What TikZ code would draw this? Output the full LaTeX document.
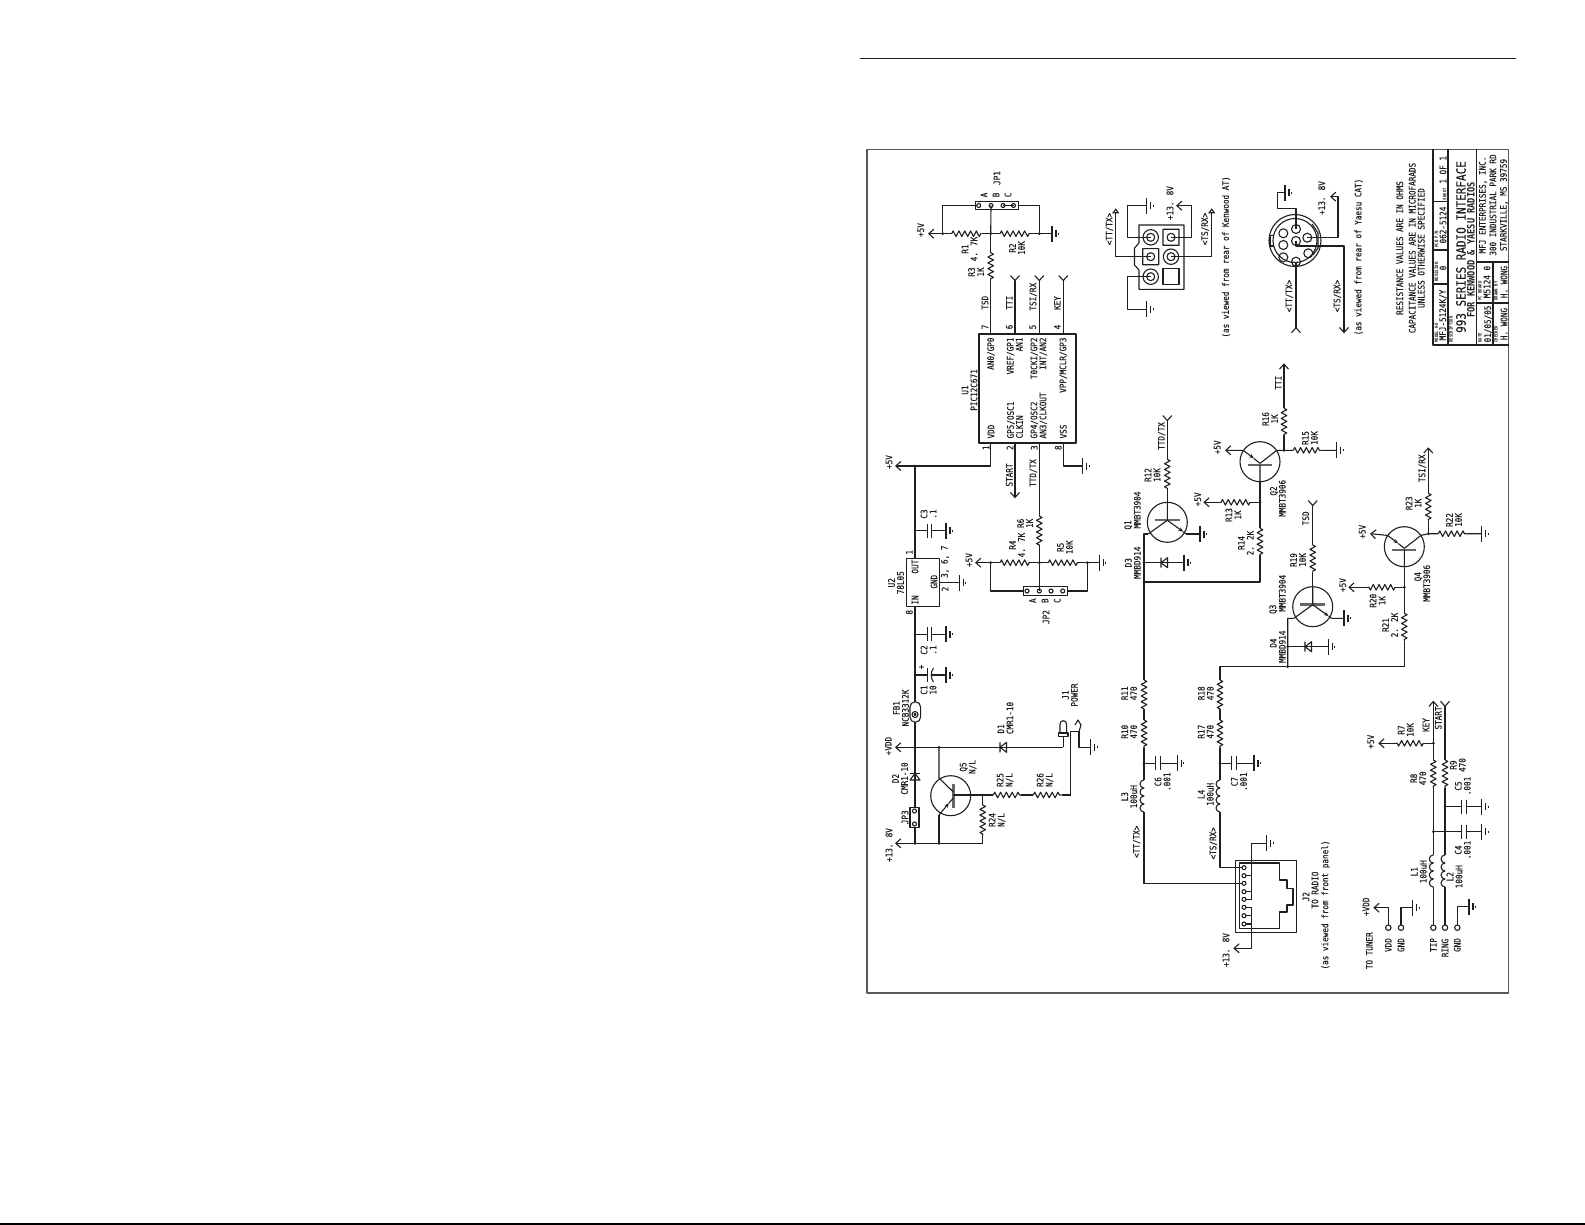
\documentclass[tikz,border=0pt]{standalone}
\usepackage{fontspec}
\usetikzlibrary{arrows.meta,decorations.pathmorphing}
\newfontfamily\cadfont[FakeStretch=0.85,FakeBold=0.25]{DejaVu Sans Mono}
\newfontfamily\cadbold[FakeStretch=0.85]{DejaVu Sans Mono Bold}

\newcommand{\resis}[3]{\coordinate (#1a) at #2; \coordinate (#1b) at #3; \draw[zig] (#1a) -- (#1b);}

\tikzset{
    zig/.style={decorate, decoration={zigzag, segment length=5.8pt, amplitude=2.8pt}},
    lbl/.style={rotate=90, inner sep=0pt, align=center, font=\cadfont\fontsize{9}{9}\selectfont},
    lblL/.style={lbl, align=left},
    capt/.style={rotate=90, inner sep=0pt, font=\cadbold\fontsize{4.6}{5}\selectfont},
    rail/.style={-{Straight Barb[length=5pt,width=9pt]}},
    fork/.style={-{Straight Barb[reversed,length=5pt,width=9pt]}},
    tri/.style={-{Triangle[open,length=5pt,width=7pt]}},
    gnd/.pic={
        \coordinate (-p) at (0,0);
        \draw (0,-8) -- (0,8) (4,-3.5) -- (4,3.5) (6.5,-1) -- (6.5,1);
    },
    capc/.pic={
        \coordinate (-a) at (0,0);
        \coordinate (-b) at (4.4,0);
        \draw (0,-7) -- (0,7) (4.4,-7) -- (4.4,7);
    },
    dioh/.pic={
        \draw (0,-5) -- (0,5) (0,0) -- (6.5,-5) -- (6.5,5) -- cycle;
    },
    qnpn/.pic={
        \coordinate (-b) at (0,-20);
        \coordinate (-c) at (-19,11.7);
        \coordinate (-e) at (19,11.7);
        \draw (0,0) circle (20);
        \draw[line width=2.4pt, black!60] (-12.5,-2.3) -- (12.5,-2.3);
        \draw (0,-20) -- (0,-2.3) (0,-2) -- (-19,11.7);
        \draw[-{Stealth[length=5pt]}] (0,-2) -- (16,9.5);
        \draw (16,9.5) -- (19,11.7);
    },
    qpnp/.pic={
        \coordinate (-b) at (0,20);
        \coordinate (-c) at (16.7,-11.3);
        \coordinate (-e) at (-16.7,-11.3);
        \draw (0,0) circle (20);
        \draw[line width=2.4pt, black!60] (-12,3.3) -- (12,3.3);
        \draw (0,20) -- (0,3.3) (0,1.7) -- (16.7,-11.3);
        \draw[-{Stealth[length=5pt]}] (-16.7,-11.3) -- (-6,-3.2);
        \draw (-6,-3.2) -- (0,1.7);
    },
    coilv/.pic={
        \draw (0,0) arc (-90:-270:4) arc (-90:-270:4) arc (-90:-270:4) arc (-90:-270:4);
    },
    kdbl/.pic={\draw (0,0) circle (7.7) (0,0) circle (4);},
    ksqr/.pic={\draw (-8,-8) rectangle (8,8) (0,0) circle (4);},
}

\begin{document}
\begin{tikzpicture}[x=1pt, y=-1pt, line width=1.1pt, line join=round, color=black!88]
    \useasboundingbox[fill=white] (0,0) rectangle (1585,1225);

    % page rules and sheet frame
    \draw (860,58.6) -- (1515.6,58.6);
    \draw[line width=2pt, black] (0,1224) -- (1585,1224);
    \draw[line width=1.4pt, black!65] (867,149.5) rectangle (1508.6,993);

    % U1
    \node[draw, minimum width=97pt, minimum height=109pt, inner sep=0pt] (u1) at (1027.5,388.5) {};
    \coordinate (p7) at (990.7,334);
    \coordinate (p6) at (1015,334);
    \coordinate (p5) at (1039.3,334);
    \coordinate (p4) at (1063.3,334);
    \coordinate (p1) at (990.7,443);
    \coordinate (p2) at (1015,443);
    \coordinate (p3) at (1039.3,443);
    \coordinate (p8) at (1063.3,443);
    \draw[fork] (p6) -- (1015,275);
    \draw[fork] (p5) -- (1039.3,275);
    \draw[fork] (p4) -- (1063.3,275);
    \coordinate (startend) at (1015,498.3);
    \draw[rail] (p2) -- (startend);
    \pic (g8) at (1082.7,466) {gnd};
    \draw (p8) |- (g8-p);
    \node[lbl] (u1t) at (969.5,390) {U1\\PIC12C671};
    \node[lbl, anchor=east] (u1a) at (991,337) {AN0/GP0};
    \node[lbl, anchor=east, align=right] (u1b) at (1014.7,337) {VREF/GP1\\AN1};
    \node[lbl, anchor=east, align=right] (u1c) at (1038.8,337) {T0CKI/GP2\\INT/AN2};
    \node[lbl, anchor=east] (u1d) at (1063.3,337) {VPP/MCLR/GP3};
    \node[lbl, anchor=west] (u1e) at (991,439) {VDD};
    \node[lblL, anchor=west] (u1f) at (1015,439) {GP5/OSC1\\CLKIN};
    \node[lblL, anchor=west] (u1g) at (1038.8,439) {GP4/OSC2\\AN3/CLKOUT};
    \node[lbl, anchor=west] (u1h) at (1063.3,439) {VSS};
    \node[lbl] (n7) at (985,327) {7};
    \node[lbl] (n6) at (1009.3,327) {6};
    \node[lbl] (n5) at (1032.7,327) {5};
    \node[lbl] (n4) at (1057.3,327) {4};
    \node[lbl] (n1) at (986,447.7) {1};
    \node[lbl] (n2) at (1010,447.7) {2};
    \node[lbl] (n3) at (1034.3,447.7) {3};
    \node[lbl] (n8) at (1058.3,447.7) {8};
    \node[lbl] (tsdu) at (985,302.7) {TSD};
    \node[lbl] (ttiu) at (1009.3,302.7) {TTI};
    \node[lbl] (tsiu) at (1033.3,296.7) {TSI/RX};
    \node[lbl] (keyu) at (1057.3,303) {KEY};
    \node[lbl] (startu) at (1009.3,475) {START};
    \node[lbl] (ttdu) at (1033.3,473) {TTD/TX};

    % JP1, R1 to R3
    \node[draw, minimum width=43.7pt, minimum height=7.6pt, inner sep=0pt] (jp1) at (997,205.5) {};
    \foreach \x in {978.7,991,1003,1013.5} \draw (\x,205.5) circle (2);
    \draw (1003,205.5) -- (1013.5,205.5);
    \resis{r1}{(951.7,233.7)}{(981.7,233.7)}
    \resis{r2}{(1000,233.7)}{(1030,233.7)}
    \resis{r3}{(990.7,252.7)}{(990.7,279)}
    \coordinate (j1a) at (942.7,233.7);
    \coordinate (j1b) at (990.7,233.7);
    \coordinate (j1c) at (1039.3,233.7);
    \pic (g1) at (1052,233.7) {gnd};
    \draw[rail] (j1a) -- (928,233.7);
    \draw (j1a) -- (r1a) (r1b) -- (j1b) -- (r2a) (r2b) -- (j1c) -- (g1-p);
    \draw (j1b) -- (r3a) (r3b) -- (p7);
    \draw (j1b) -- (991,205.5);
    \draw (j1a) |- (jp1.west);
    \draw (j1c) |- (jp1.east);
    \foreach \j in {j1a,j1b,j1c} \fill (\j) circle (1.5);
    \node[lbl] (jp1t) at (997,178) {JP1};
    \node[lbl] (jp1a) at (984,195) {A};
    \node[lbl] (jp1b) at (996,195) {B};
    \node[lbl] (jp1c) at (1008,195) {C};
    \node[lbl] (v5a) at (920.7,230) {+5V};
    \node[lbl] (r1t) at (969.5,249) {R1\\4. 7K};
    \node[lbl] (r2t) at (1017,248) {R2\\10K};
    \node[lbl] (r3t) at (976,272) {R3\\1K};

    % +5V rail, U2, C1 to C3
    \node[draw, minimum width=33.3pt, minimum height=48.4pt, inner sep=0pt] (u2) at (922.7,582.5) {};
    \coordinate (j2a) at (915,466);
    \coordinate (j2b) at (915,530.7);
    \coordinate (j2c) at (915,634.3);
    \coordinate (j2d) at (915,675);
    \coordinate (j2e) at (915,747.3);
    \coordinate (j2f) at (915,843.3);
    \draw[rail] (p1) |- (895,466);
    \draw (j2a) -- (915,558.3);
    \draw (915,606.7) -- (j2f);
    \pic (c3) at (927.3,530.7) {capc};
    \pic (c2) at (927.3,634.3) {capc};
    \pic (g3) at (946,530.7) {gnd};
    \pic (g4) at (946,634.3) {gnd};
    \pic (g5) at (946,675) {gnd};
    \pic (g6) at (959.3,582.7) {gnd};
    \draw (j2b) -- (c3-a) (c3-b) -- (g3-p);
    \draw (j2c) -- (c2-a) (c2-b) -- (g4-p);
    \coordinate (c1a) at (927.3,675);
    \draw (j2d) -- (c1a);
    \draw (927.3,668) -- (927.3,682);
    \draw (933.5,668) .. controls (930.5,672) and (930.5,678) .. (933.5,682);
    \draw (931.5,675) -- (g5-p);
    \draw (939.3,582.7) -- (g6-p);
    \foreach \j in {j2a,j2b,j2c,j2d,j2e,j2f} \fill (\j) circle (1.5);
    \node[lbl] (c3t) at (928.5,514) {C3\\.1};
    \node[lbl] (c2t) at (928.5,650) {C2\\.1};
    \node[lbl] (c1t) at (928.5,690) {C1\\10};
    \node[lbl] (plus1) at (921.7,667) {+};
    \node[lbl] (u2t) at (896,582.7) {U2\\78L05};
    \node[lbl] (u2a) at (915,566.7) {OUT};
    \node[lbl] (u2b) at (915,600) {IN};
    \node[lbl] (u2c) at (934,581.7) {GND};
    \node[lbl] (u2p1) at (909.3,552.3) {1};
    \node[lbl] (u2p8) at (909.3,612.3) {8};
    \node[lbl] (u2p2) at (945,589) {2};
    \node[lbl] (u2p3) at (945,561.7) {3, 6, 7};
    \node[lbl] (v5b) at (889,462) {+5V};

    % FB1, D1, D2, JP3, J1
    \draw[fill=white] (910,707) arc (180:360:5.3) -- (920.6,717) arc (0:180:5.3) -- cycle;
    \draw (915,714.5) circle (3) (915,714.5) circle (1);
    \node[lbl] (fb1t) at (901,708) {FB1\\NCB3312K};
    \pic (d1) at (1000,747.3) {dioh};
    \draw[rail] (1063.3,747.3) -- (895,747.3);
    \draw (910,773.5) -- (920,773.5);
    \draw (915,773.5) -- (910,780) -- (920,780) -- cycle;
    \node[lbl] (d1t) at (1005.5,718) {\makebox[31pt][l]{D1}\\CMR1-10};
    \node[lbl] (d2t) at (900,778.5) {D2\\CMR1-10};
    \node[draw, fill=white, minimum width=9pt, minimum height=20pt, inner sep=0pt] (jp3) at (914.5,817.3) {};
    \foreach \y in {811,824} \draw (914.5,\y) circle (2);
    \node[lbl] (jp3t) at (905,817.3) {JP3};
    \draw[rail] (982.7,843.3) -- (895,843.3);
    \node[lbl] (v138a) at (889,845) {+13. 8V};
    \node[lbl] (vdda) at (888.3,746) {+VDD};
    \draw (1060,733) -- (1060,724) arc (180:360:3.3) -- (1066.6,733);
    \draw (1058.5,733) rectangle (1068,736.7);
    \draw (1063.3,736.7) -- (1063.3,747.3);
    \coordinate (jk) at (1070.7,731.7);
    \coordinate (jl) at (1079,731.7);
    \pic (g7) at (1090.7,747.3) {gnd};
    \draw (1070.7,795) -- (jk) -- (jl) |- (g7-p);
    \draw (jl) -- (1081,725) -- (1078,720) -- (1075,725);
    \node[lbl] (j1t) at (1070,695) {J1\\POWER};

    % Q5, R24 to R26
    \coordinate (j5a) at (939,747.3);
    \coordinate (j5b) at (939,843.3);
    \coordinate (j5c) at (982.7,795);
    \draw (950.7,795.7) circle (20);
    \draw[line width=2.4pt, black!60] (953.3,783.5) -- (953.3,807.5);
    \draw (j5a) -- (939,778) -- (953.3,792);
    \draw (953.3,795) -- (j5c);
    \draw[-{Stealth[length=5pt]}] (939,815) -- (949,803);
    \draw (949,803) -- (953.3,798);
    \draw (939,815) -- (j5b);
    \resis{r25}{(993.3,795)}{(1021,795)}
    \resis{r26}{(1033.3,795)}{(1061.7,795)}
    \resis{r24}{(982.7,805)}{(982.7,835)}
    \draw (j5c) -- (r25a) (r25b) -- (r26a) (r26b) -- (1070.7,795);
    \draw (j5c) -- (r24a) (r24b) -- (982.7,843.3);
    \foreach \j in {j5a,j5b,j5c} \fill (\j) circle (1.5);
    \node[lbl] (q5t) at (968,767) {Q5\\N/L};
    \node[lbl] (r25t) at (1005,780) {R25\\N/L};
    \node[lbl] (r26t) at (1045,780) {R26\\N/L};
    \node[lbl] (r24t) at (997,820) {R24\\N/L};

    % JP2, R4 to R6
    \node[draw, minimum width=44pt, minimum height=8.3pt, inner sep=0pt] (jp2) at (1045.3,591) {};
    \foreach \x in {1027,1039.3,1051,1062.7} \draw (\x,591) circle (2);
    \resis{r6}{(1039.3,516)}{(1039.3,546)}
    \resis{r4}{(1000,562.7)}{(1030,562.7)}
    \resis{r5}{(1048.3,562.7)}{(1078.3,562.7)}
    \coordinate (j6a) at (990.7,562.7);
    \coordinate (j6b) at (1039.3,562.7);
    \coordinate (j6c) at (1087.3,562.7);
    \pic (g9) at (1099.3,562.7) {gnd};
    \draw (p3) -- (r6a) (r6b) -- (j6b) -- (1039.3,591);
    \draw[rail] (r4a) -- (975,562.7);
    \draw (r4b) -- (j6b) -- (r5a) (r5b) -- (j6c) -- (g9-p);
    \draw (j6a) |- (jp2.west);
    \draw (j6c) |- (jp2.east);
    \foreach \j in {j6a,j6b,j6c} \fill (\j) circle (1.5);
    \node[lbl] (jp2t) at (1046,617) {JP2};
    \node[lbl] (jp2a) at (1032.7,600.7) {A};
    \node[lbl] (jp2b) at (1045,600.7) {B};
    \node[lbl] (jp2c) at (1057.3,600.7) {C};
    \node[lbl] (v5c) at (969,560) {+5V};
    \node[lbl] (r4t) at (1017,545) {R4\\4. 7K};
    \node[lbl] (r5t) at (1065,547.3) {R5\\10K};
    \node[lbl] (r6t) at (1025,523.3) {R6\\1K};

    % Kenwood connector
    \draw (1139,225) -- (1184,225) -- (1184,289.3) -- (1139,289.3) -- (1139,270) -- (1134.5,265) -- (1134.5,248) -- (1139,243) -- cycle;
    \pic (k1) at (1150.7,237.3) {kdbl};
    \pic (k2) at (1171,237.3) {ksqr};
    \pic (k3) at (1150.7,256.7) {ksqr};
    \pic (k4) at (1171,256.7) {kdbl};
    \pic (k5) at (1150.7,276.7) {kdbl};
    \draw (1163,268.7) rectangle (1179,284.7);
    \pic (g10) at (1146.7,205.7) {gnd};
    \pic (g11) at (1146.7,309.3) {gnd};
    \coordinate (k1c) at (1150.7,237.3);
    \coordinate (k2c) at (1171,237.3);
    \coordinate (k3c) at (1150.7,256.7);
    \coordinate (k4c) at (1171,256.7);
    \coordinate (k5c) at (1150.7,276.7);
    \draw (k1c) -- (1127.3,237.3) |- (g10-p);
    \draw (k5c) -- (1127.3,276.7) |- (g11-p);
    \draw[rail] (k2c) -- (1191.7,237.3) |- (1176,205.7);
    \draw[tri] (k3c) -- (1115.7,256.7) -- (1115.7,208.3);
    \draw[tri] (k4c) -- (1211.7,256.7) -- (1211.7,208.3);
    \node[lbl] (v138b) at (1170,203) {+13. 8V};
    \node[lbl] (ttk) at (1109.5,229) {<TT/TX>};
    \node[lbl] (tsk) at (1205,229) {<TS/RX>};
    \node[lbl] (kwnote) at (1226,257) {(as viewed from rear of Kenwood AT)};

    % Yaesu connector
    \draw (1295,240.5) circle (26) (1295,240.5) circle (22);
    \foreach \x/\y in {1296/229,1283.3/233.3,1307.3/237.7,1296/241,1283.3/245,1308.3/253.3,1283.3/257.3,1296/261.7}
        \draw (\x,\y) circle (4.5);
    \draw (1274,235.5) -- (1270,235.5) -- (1270,246) -- (1274,246);
    \draw (1312,224) -- (1318,233) -- (1318,248) -- (1313,255);
    \coordinate (y1) at (1296,229);
    \coordinate (y2) at (1307.3,237.7);
    \coordinate (y3) at (1296,241);
    \coordinate (y4) at (1296,261.7);
    \pic (g12) at (1285,192.7) {gnd};
    \draw (y1) -- (1296,208.3) -- (1277.3,208.3) |- (g12-p);
    \draw[rail] (y2) -- (1338,237.7) |- (1330,196.7);
    \draw[rail] (y3) -- (1296,246) -- (1344,246) -- (1344,333.3);
    \draw[fork] (y4) -- (1296,333.3);
    \node[lbl] (v138c) at (1321.7,198) {+13. 8V};
    \node[lbl] (tty) at (1289.3,296) {<TT/TX>};
    \node[lbl] (tsy) at (1337.3,296) {<TS/RX>};
    \node[lbl] (ysnote) at (1358.5,257) {(as viewed from rear of Yaesu CAT)};

    % notes
    \node[lbl] (note) at (1410.5,248) {RESISTANCE VALUES ARE IN OHMS\\[3.5pt]CAPACITANCE VALUES ARE IN MICROFARADS\\UNLESS OTHERWISE SPECIFIED};

    % title block
    \draw (1433,149.5) -- (1433,345) -- (1508.6,345);
    \draw (1448,149.5) -- (1448,345) (1476.3,149.5) -- (1476.3,345);
    \draw (1433,201.7) -- (1448,201.7) (1433,250) -- (1448,250) (1433,284) -- (1448,284);
    \draw (1476.3,262) -- (1508.6,262) (1476.3,303) -- (1508.6,303) (1493,262) -- (1493,345);
    \node[capt, anchor=west] (tb1) at (1436.5,343) {MODEL NO};
    \node[lbl] (tb2) at (1443,315) {MFJ-5124K/Y};
    \node[capt, anchor=west] (tb3) at (1436.5,282) {REVISION};
    \node[lbl] (tb4) at (1443,268) {0};
    \node[capt, anchor=west] (tb5) at (1436.5,248) {PCB P/N};
    \node[lbl] (tb6) at (1443,225) {062-5124};
    \node[lbl] (tb7) at (1443,178) {{\cadbold\fontsize{4.6}{5}\selectfont SHEET} 1 OF 1};
    \node[capt, anchor=west] (tb8) at (1451,343) {DESCRIPTION};
    \node[lbl, font=\cadfont\fontsize{12.9}{13}\selectfont] (tb9) at (1461,247) {993 SERIES RADIO INTERFACE};
    \node[lbl, font=\cadbold\fontsize{10.2}{11}\selectfont] (tb10) at (1471,250) {FOR KENWOOD \& YAESU RADIOS};
    \node[capt, anchor=west] (tb11) at (1480,343) {DATE};
    \node[lbl] (tb12) at (1488,324) {01/05/05};
    \node[capt, anchor=west] (tb13) at (1496,343) {CHECKED};
    \node[lbl] (tb14) at (1504,324) {H. WONG};
    \node[capt, anchor=west] (tb15) at (1480,301) {PC BOARD};
    \node[lbl] (tb16) at (1488,282) {M5124\_0};
    \node[capt, anchor=west] (tb17) at (1496,301) {DRAWN BY};
    \node[lbl] (tb18) at (1504,282) {H. WONG};
    \node[lbl] (tb19) at (1493.5,205) {MFJ ENTERPRISES, INC.\\[1.5pt]300 INDUSTRIAL PARK RD\\[1.5pt]STARKVILLE, MS 39759};

    % Q1, D3, Q2 stage
    \pic (q1) at (1167.3,522.3) {qnpn};
    \pic (q2) at (1260,461.7) {qpnp};
    \pic (d3) at (1161,562.7) {dioh};
    \resis{r12}{(1167.3,459.3)}{(1167.3,488.3)}
    \resis{r16}{(1284,408.3)}{(1284,435)}
    \resis{r15}{(1293.3,450.3)}{(1321.7,450.3)}
    \resis{r13}{(1250,502.3)}{(1221,502.3)}
    \resis{r14}{(1260,528.3)}{(1260,555)}
    \coordinate (j7a) at (1144,534);
    \coordinate (j7b) at (1144,562.7);
    \coordinate (j7c) at (1144,582);
    \coordinate (j7d) at (1260,502.3);
    \coordinate (j7e) at (1284,450.3);
    \pic (g13) at (1200,534) {gnd};
    \pic (g14) at (1184,562.7) {gnd};
    \pic (g15) at (1336.7,450.3) {gnd};
    \draw[fork] (r12a) -- (1167.3,415);
    \draw (r12b) -- (q1-b);
    \draw (q1-e) -- (g13-p);
    \draw (q1-c) -- (j7a) -- (1144,680);
    \draw (j7b) -- (g14-p);
    \draw (j7c) -| (r14b);
    \draw (r14a) -- (j7d) -- (q2-b);
    \draw (j7d) -- (r13a);
    \draw[rail] (r13b) -- (1203.3,502.3);
    \draw[rail] (q2-e) -- (1225,450.3);
    \draw (q2-c) -- (j7e) -- (r15a) (r15b) -- (g15-p);
    \draw (j7e) -- (r16b);
    \draw[rail] (r16a) -- (1284,363.3);
    \foreach \j in {j7b,j7c,j7d,j7e} \fill (\j) circle (1.5);
    \node[lbl] (ttdq) at (1161.7,436) {TTD/TX};
    \node[lbl] (r12t) at (1152.5,475) {R12\\10K};
    \node[lbl] (q1t) at (1128.3,525) {Q1};
    \node[lbl] (q1m) at (1137.3,510) {MMBT3904};
    \node[lbl] (d3t) at (1128.3,562.7) {D3};
    \node[lbl] (d3m) at (1137.3,562.7) {MMBD914};
    \node[lbl] (v5d) at (1197.7,499.3) {+5V};
    \node[lbl] (r13t) at (1233.3,515) {R13\\1K};
    \node[lbl] (r14t) at (1245.8,543) {R14\\2. 2K};
    \node[lbl] (q2t) at (1274,491) {Q2};
    \node[lbl] (q2m) at (1282.3,498.3) {MMBT3906};
    \node[lbl] (v5e) at (1217.3,447.3) {+5V};
    \node[lbl] (ttiq) at (1278.3,382.7) {TTI};
    \node[lbl] (r16t) at (1270,419) {R16\\1K};
    \node[lbl] (r15t) at (1310,438) {R15\\10K};

    % Q3, D4, Q4 stage
    \pic (q3) at (1312.7,606.7) {qnpn};
    \pic (q4) at (1404.3,546.7) {qpnp};
    \pic (d4) at (1305,646.7) {dioh};
    \resis{r19}{(1312.7,545)}{(1312.7,571.7)}
    \resis{r23}{(1428.3,493.3)}{(1428.3,520)}
    \resis{r22}{(1438.3,533.7)}{(1466.7,533.7)}
    \resis{r20}{(1395,587.3)}{(1366.7,587.3)}
    \resis{r21}{(1404.3,613.3)}{(1404.3,641.7)}
    \coordinate (j8a) at (1287.7,618.3);
    \coordinate (j8b) at (1287.7,646.7);
    \coordinate (j8c) at (1287.7,666.7);
    \coordinate (j8d) at (1404.3,587.3);
    \coordinate (j8e) at (1428.3,533.7);
    \pic (g16) at (1344,618.3) {gnd};
    \pic (g17) at (1328.3,646.7) {gnd};
    \pic (g18) at (1481.7,533.7) {gnd};
    \draw[fork] (r19a) -- (1312.7,500);
    \draw (r19b) -- (q3-b);
    \draw (q3-e) -- (g16-p);
    \draw (q3-c) -- (j8a) -- (j8c);
    \draw (j8b) -- (g17-p);
    \draw (1220,680) |- (j8c) -| (r21b);
    \draw (r21a) -- (j8d) -- (q4-b);
    \draw (j8d) -- (r20a);
    \draw[rail] (r20b) -- (1348.3,587.3);
    \draw[rail] (q4-e) -- (1370,533.7);
    \draw (q4-c) -- (j8e) -- (r22a) (r22b) -- (g18-p);
    \draw (j8e) -- (r23b);
    \draw[rail] (r23a) -- (1428.3,447.3);
    \foreach \j in {j8b,j8c,j8d,j8e} \fill (\j) circle (1.5);
    \node[lbl] (tsdq) at (1305.7,518.3) {TSD};
    \node[lbl] (r19t) at (1298,560) {R19\\10K};
    \node[lbl] (q3t) at (1273.3,609.3) {Q3};
    \node[lbl] (q3m) at (1282.3,593.3) {MMBT3904};
    \node[lbl] (d4t) at (1273.3,643) {D4};
    \node[lbl] (d4m) at (1282.3,646.7) {MMBD914};
    \node[lbl] (v5f) at (1342.7,585) {+5V};
    \node[lbl] (r20t) at (1377.5,600.7) {R20\\1K};
    \node[lbl] (r21t) at (1390,625) {R21\\2. 2K};
    \node[lbl] (q4t) at (1418.3,576.7) {Q4};
    \node[lbl] (q4m) at (1426.7,583.3) {MMBT3906};
    \node[lbl] (v5g) at (1362.3,531.7) {+5V};
    \node[lbl] (tsiq) at (1422.3,468.3) {TSI/RX};
    \node[lbl] (r23t) at (1413.5,503.3) {R23\\1K};
    \node[lbl] (r22t) at (1454,520) {R22\\10K};

    % filters to J2
    \resis{r11}{(1144,680)}{(1144,709)}
    \resis{r10}{(1144,720)}{(1144,748.3)}
    \resis{r18}{(1220,680)}{(1220,709)}
    \resis{r17}{(1220,720)}{(1220,748.3)}
    \pic (l3) at (1144,780) {coilv};
    \pic (l4) at (1220,780) {coilv};
    \pic (c6) at (1155.7,763.3) {capc};
    \pic (c7) at (1231.7,763.3) {capc};
    \pic (g19) at (1177.3,763.3) {gnd};
    \pic (g20) at (1254,763.3) {gnd};
    \coordinate (j9a) at (1144,763.3);
    \coordinate (j9b) at (1220,763.3);
    \coordinate (pin1) at (1244,867.7);
    \coordinate (pin3) at (1244,883.3);
    \draw (r11b) -- (r10a) (r10b) -- (j9a) -- (1144,780);
    \draw (r18b) -- (r17a) (r17b) -- (j9b) -- (1220,780);
    \draw (j9a) -- (c6-a) (c6-b) -- (g19-p);
    \draw (j9b) -- (c7-a) (c7-b) -- (g20-p);
    \draw (1144,812) |- (pin3);
    \draw (1220,812) |- (pin1);
    \foreach \j in {j9a,j9b} \fill (\j) circle (1.5);
    \node[lbl] (r11t) at (1129.2,693.3) {R11\\470};
    \node[lbl] (r10t) at (1129.2,731.7) {R10\\470};
    \node[lbl] (r18t) at (1205.8,693.3) {R18\\470};
    \node[lbl] (r17t) at (1205.8,731.7) {R17\\470};
    \node[lbl] (l3t) at (1129.2,796.7) {L3\\100uH};
    \node[lbl] (l4t) at (1205.8,794.3) {L4\\100uH};
    \node[lbl] (c6t) at (1162.5,781.7) {C6\\.001};
    \node[lbl] (c7t) at (1239,781.7) {C7\\.001};
    \node[lbl] (ttj) at (1136.7,841.7) {<TT/TX>};
    \node[lbl] (tsj) at (1213.3,843.3) {<TS/RX>};

    % J2
    \node[draw, minimum width=60.3pt, minimum height=72.3pt, inner sep=0pt] (j2) at (1265.9,896.2) {};
    \draw (1239.5,863) -- (1279.5,863) -- (1279.5,880) -- (1287,880) -- (1287,888.5) -- (1293,888.5) -- (1293,905) -- (1287,905) -- (1287,912) -- (1279.5,912) -- (1279.5,928.5) -- (1239.5,928.5) -- cycle;
    \draw[line width=2pt] (1293,888.5) -- (1293,905);
    \foreach \y in {867.7,875.7,883.3,891.7,899.3,907.3,915.7,924} \draw[fill=white] (1244,\y) circle (2);
    \foreach \y in {875.7,891.7,899.3,907.3,915.7,924} \draw (1246,\y) -- (1251.7,\y);
    \pic (g21) at (1266.7,843.3) {gnd};
    \draw (1251.7,899.3) |- (g21-p);
    \draw[rail] (1251.7,907.3) |- (1233.3,948.3);
    \node[lbl] (v138d) at (1226,950) {+13. 8V};
    \node[lbl] (j2t) at (1306,896.7) {J2};
    \node[lbl] (j2u) at (1315,890) {TO RADIO};
    \node[lbl] (j2n) at (1325.7,905) {(as viewed from front panel)};

    % KEY, START, terminals
    \resis{r7}{(1423.3,743.3)}{(1395,743.3)}
    \resis{r8}{(1433.3,760)}{(1433.3,788.3)}
    \resis{r9}{(1445,760)}{(1445,788.3)}
    \pic (l1) at (1433.3,855) {coilv};
    \pic (l2) at (1445,855) {coilv};
    \pic (c4) at (1461.7,831.7) {capc};
    \pic (c5) at (1461.7,806.7) {capc};
    \pic (g22) at (1481.7,831.7) {gnd};
    \pic (g23) at (1481.7,806.7) {gnd};
    \coordinate (ja) at (1433.3,743.3);
    \coordinate (jb) at (1433.3,831.7);
    \coordinate (jc) at (1445,806.7);
    \coordinate (tip) at (1433.3,925);
    \coordinate (ring) at (1445,925);
    \coordinate (vdd) at (1388.3,925);
    \coordinate (gnda) at (1401,925);
    \coordinate (gndb) at (1457.3,925);
    \draw[rail] (ja) -- (1433.3,700.7);
    \draw[rail] (r7b) -- (1378.3,743.3);
    \draw (ja) -- (r7a) (ja) -- (r8a) (r8b) -- (jb) -- (1433.3,855);
    \draw (1433.3,887) -- (tip);
    \draw[fork] (r9a) -- (1445,700.7);
    \draw (r9b) -- (jc) -- (1445,855) (1445,887) -- (ring);
    \draw (jb) -- (c4-a) (c4-b) -- (g22-p);
    \draw (jc) -- (c5-a) (c5-b) -- (g23-p);
    \foreach \j in {ja,jb,jc} \fill (\j) circle (1.5);
    \foreach \x in {1388.3,1401,1433.3,1445,1457.3} \draw (\x,927.7) circle (2.7);
    \draw[rail] (vdd) |- (1373.3,907.7);
    \pic (g24) at (1412.7,907.7) {gnd};
    \pic (g25) at (1469,906.7) {gnd};
    \draw (gnda) |- (g24-p);
    \draw (gndb) |- (g25-p);
    \node[lbl] (keyt) at (1426,725) {KEY};
    \node[lbl] (startt) at (1438.3,718) {START};
    \node[lbl] (v5h) at (1370.7,741.7) {+5V};
    \node[lbl] (r7t) at (1405.8,730) {R7\\10K};
    \node[lbl] (r8t) at (1418.2,778.3) {R8\\470};
    \node[lbl] (r9t) at (1457.8,765) {R9\\470};
    \node[lbl] (c5t) at (1462.8,786) {C5\\.001};
    \node[lbl] (c4t) at (1462.8,850) {C4\\.001};
    \node[lbl] (l1t) at (1418.8,871.7) {L1\\100uH};
    \node[lbl] (l2t) at (1454.5,876.7) {L2\\100uH};
    \node[lbl] (vddb) at (1366,906.7) {+VDD};
    \node[lbl] (tun) at (1369.3,950.7) {TO TUNER};
    \node[lbl] (tv) at (1388.3,945) {VDD};
    \node[lbl] (tg) at (1401,945) {GND};
    \node[lbl] (tt) at (1433.3,945) {TIP};
    \node[lbl] (tr) at (1445,948) {RING};
    \node[lbl] (tgb) at (1457.3,945) {GND};
\end{tikzpicture}
\end{document}
